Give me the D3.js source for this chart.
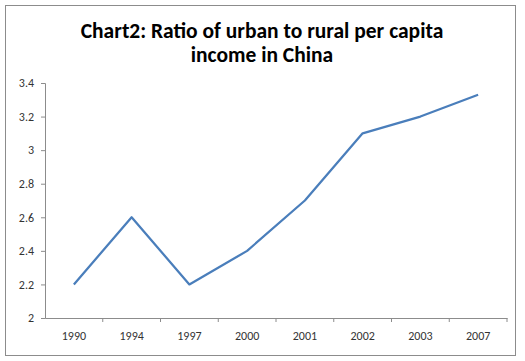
<!DOCTYPE html>
<html><head><meta charset="utf-8">
<script src="https://cdn.jsdelivr.net/npm/d3@7"></script>
<style>body{margin:0;background:#fff}</style>
</head><body>
<script>
const categories = ["1990","1994","1997","2000","2001","2002","2003","2007"];
const ratios = [2.2, 2.6, 2.2, 2.4, 2.7, 3.1, 3.2, 3.33];
const yTicks = [2, 2.2, 2.4, 2.6, 2.8, 3, 3.2, 3.4];
const titleLines = ["Chart2: Ratio of urban to rural per capita", "income in China"];

(function () {
const W = 525, H = 361;
const svg = d3.select("body").append("svg").attr("width", W).attr("height", H);
svg.append("rect").attr("x", 5.5).attr("y", 5.5).attr("width", 510).attr("height", 350)
  .attr("fill", "#fff").attr("stroke", "#8c8c8c").attr("stroke-width", 1);

const mL = 45, mR = 507, mT = 83, mB = 318;
const x = d3.scaleBand().domain(categories).range([mL, mR]);
const y = d3.scaleLinear().domain([2, 3.4]).range([mB, mT]);

const t = svg.append("text").attr("text-anchor", "middle")
  .attr("font-family", "Carlito, 'Open Sans', sans-serif").attr("font-weight", "bold")
  .attr("font-size", 21.5).attr("fill", "#000");
titleLines.forEach((l, i) => t.append("tspan").attr("x", 262).attr("y", 37.5 + i * 24.5).text(l));

const yAxis = svg.append("g").attr("transform", `translate(${mL},0)`)
  .call(d3.axisLeft(y).tickValues(yTicks).tickSize(4).tickPadding(7).tickFormat(d => d3.format("~g")(d)));
const xAxis = svg.append("g").attr("transform", `translate(0,${mB})`)
  .call(d3.axisBottom(x).tickSize(0).tickPadding(13.5));
xAxis.selectAll(".bnd").data(categories).enter().append("line")
  .attr("x1", d => x(d) + x.bandwidth()).attr("x2", d => x(d) + x.bandwidth())
  .attr("y1", 0).attr("y2", 4).attr("stroke", "#8c8c8c");
[yAxis, xAxis].forEach(a => {
  a.select(".domain").attr("stroke", "#8c8c8c");
  a.selectAll(".tick line").attr("stroke", "#8c8c8c");
  a.selectAll("text").attr("font-family", "Carlito, 'Open Sans', sans-serif").attr("font-size", 12).attr("fill", "#333");
});

const line = d3.line().x((d, i) => x(categories[i]) + x.bandwidth() / 2).y(d => y(d));
svg.append("path").datum(ratios).attr("d", line).attr("fill", "none")
  .attr("stroke", "#4a7ebb").attr("stroke-width", 2.25).attr("stroke-linejoin", "round");
})();
</script>
</body></html>
